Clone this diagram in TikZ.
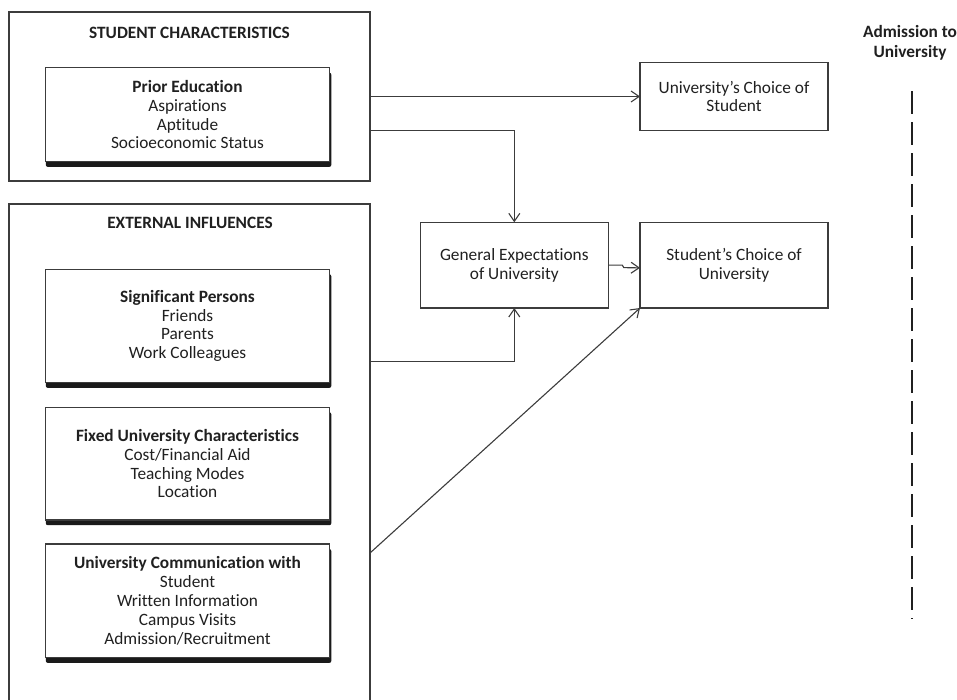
\documentclass[tikz,border=0pt]{standalone}
\usepackage{fontspec}
\setmainfont{Carlito}[RawFeature=-liga]
\usetikzlibrary{arrows.meta,calc,backgrounds}
\definecolor{ink}{HTML}{202020}
\definecolor{edgec}{HTML}{3C3C3C}
\definecolor{shadowc}{HTML}{1A1A1A}
\begin{document}
\begin{tikzpicture}[x=1pt,y=-1pt,
  every node/.style={text=ink, font=\fontsize{17.3}{18.8}\selectfont},
  outerbox/.style={draw=edgec, line width=1.2pt, inner sep=0pt, outer sep=0pt, anchor=north west},
  inbox/.style={draw=edgec, line width=1.1pt, fill=white, inner sep=0pt, outer sep=0pt,
                anchor=north west, minimum width=284pt, align=center},
  rbox/.style={draw=edgec, line width=1.2pt, inner sep=0pt, outer sep=0pt,
               anchor=north west, minimum width=188pt, align=center},
  title/.style={font=\fontsize{17.3}{18.8}\selectfont\bfseries},
  conn/.style={draw=edgec, line width=1.1pt, -{Straight Barb[length=8pt,width=11pt]}},
  plainline/.style={draw=edgec, line width=1.2pt},
  dashline/.style={draw=ink, line width=2pt, dash pattern=on 23pt off 8pt},
  shadowbar/.style={fill=shadowc, rounded corners=2pt}
]
\useasboundingbox (0,0) rectangle (957,699);

% outer frames
\node[outerbox, minimum width=361pt, minimum height=169pt] (stud) at (9,12) {};
\node[outerbox, draw=none, minimum width=361pt, minimum height=498pt] (ext) at (9,204) {};
\draw[plainline] (ext.south west) |- (ext.north east) -- (ext.south east);

% titles
\node[title] (tstud) at (189.5,33) {STUDENT CHARACTERISTICS};
\node[title] (text) at (190,222.5) {EXTERNAL INFLUENCES};

% inner boxes
\node[inbox, minimum height=94pt] (prior) at (45.5,67.7)
  {\textbf{Prior Education}\\Aspirations\\Aptitude\\Socioeconomic Status};
\node[inbox, minimum height=113.4pt] (sig) at (45.5,269.3)
  {\textbf{Significant Persons}\\Friends\\Parents\\Work Colleagues};
\node[inbox, minimum height=112.7pt] (fixed) at (45.5,407.3)
  {\textbf{Fixed University Characteristics}\\Cost/Financial Aid\\Teaching Modes\\Location};
\node[inbox, minimum height=113.7pt] (comm) at (45.5,544)
  {\textbf{University Communication with}\\Student\\Written Information\\Campus Visits\\Admission/Recruitment};

\begin{scope}[on background layer]
  \foreach \b in {prior,sig,fixed,comm}{
    \fill[shadowbar] ($(\b.south west)+(0.3,5.2)$) rectangle ($(\b.north east)+(1.8,5)$);
  }
\end{scope}

% right-hand boxes
\node[rbox, minimum height=68.4pt] (unic) at (640,62.3) {University’s Choice of\\Student};
\node[rbox, minimum height=85.7pt] (gen) at (420.3,222.3) {General Expectations\\of University};
\node[rbox, minimum height=85.3pt] (stuc) at (640,222.7) {Student’s Choice of\\University};

% connectors
\draw[conn] (stud.east) -- (unic.west);
\draw[conn] ($(stud.south east)+(0,-50.3)$) -| (gen.north);
\draw[conn] ($(ext.north east)+(0,157.7)$) -| (gen.south);
\draw[conn] (gen.east) -- ++(14,0) -- ++(1.5,2.5) -- ($(stuc.west)+(0,2.5)$);
\draw[conn] ($(ext.north east)+(0,349)$) -- (stuc.south west);

% admission marker
\node[title, align=center] (adm) at (910,43) {Admission to\\[1pt]University};
\coordinate (dtop) at (912,91);
\coordinate (dbot) at (912,619);
\draw[dashline] (dtop) -- (dbot);
\end{tikzpicture}
\end{document}
